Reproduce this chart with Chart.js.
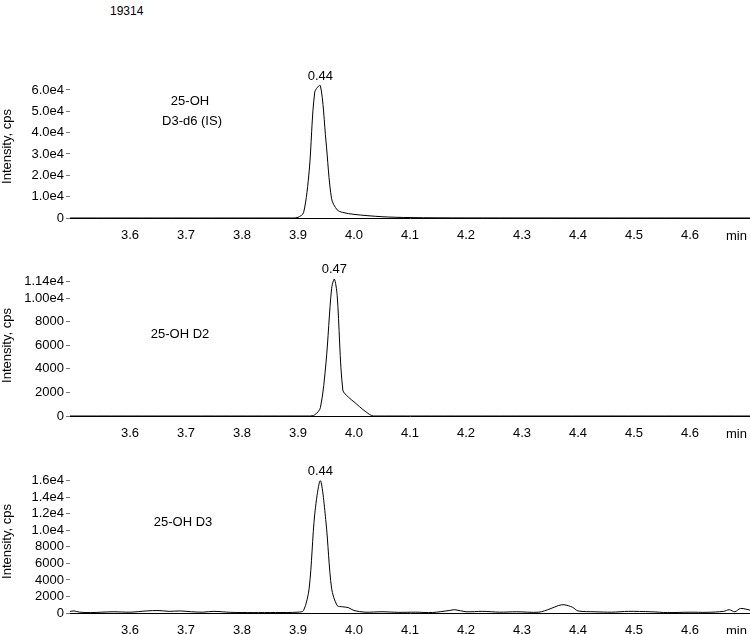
<!DOCTYPE html>
<html><head><meta charset="utf-8">
<script src="https://cdn.jsdelivr.net/npm/chart.js@4"></script>
<style>
body{margin:0;background:#fff;width:750px;height:634px;position:relative;overflow:hidden;font-family:"Liberation Sans",Arial,sans-serif}
canvas{position:absolute;left:0}
#top{position:absolute;left:110px;top:4px;font-size:12px}
</style></head><body>
<div id="top">19314</div>
<canvas id="c1" style="top:55px"></canvas>
<canvas id="c2" style="top:255px"></canvas>
<canvas id="c3" style="top:450px"></canvas>
<script>
// x tick labels shared by all panels
const xTicks = [3.6, 3.7, 3.8, 3.9, 4.0, 4.1, 4.2, 4.3, 4.4, 4.5, 4.6]

// panel 1: 25-OH D3-d6 (IS)
const t1 = [3.49, 3.70, 3.89, 3.90, 3.91, 3.92, 3.93, 3.94, 3.95, 3.96, 3.97, 3.98, 4.00, 4.05, 4.10, 4.20, 4.71]
const y1 = [0, 0, 0, 300, 2500, 22000, 59000, 62000, 36000, 9000, 3800, 2600, 1700, 600, 200, 50, 0]
// panel 2: 25-OH D2
const t2 = [3.49, 3.70, 3.92, 3.93, 3.94, 3.95, 3.96, 3.965, 3.97, 3.98, 3.99, 4.00, 4.02, 4.035, 4.20, 4.71]
const y2 = [0, 0, 0, 100, 700, 4500, 10800, 11600, 10200, 2200, 1600, 1200, 400, 0, 0, 0]
// panel 3: 25-OH D3
const t3 = [3.49, 3.50, 3.51, 3.53, 3.57, 3.60, 3.63, 3.65, 3.67, 3.69, 3.71, 3.73, 3.75, 3.78, 3.82, 3.86, 3.90, 3.91, 3.92, 3.93, 3.94, 3.95, 3.96, 3.97, 3.98, 3.99, 4.00, 4.02, 4.05, 4.08, 4.11, 4.14, 4.17, 4.18, 4.20, 4.23, 4.26, 4.29, 4.33, 4.35, 4.365, 4.375, 4.39, 4.40, 4.43, 4.46, 4.49, 4.53, 4.56, 4.60, 4.63, 4.66, 4.67, 4.68, 4.69, 4.71]
const y3 = [150, 250, 100, 50, 150, 100, 250, 300, 200, 250, 150, 100, 200, 80, 50, 60, 100, 300, 3000, 12000, 16000, 11000, 3000, 900, 750, 650, 300, 100, 150, 80, 100, 60, 300, 400, 150, 200, 100, 150, 100, 500, 900, 1000, 700, 250, 150, 100, 200, 150, 50, 100, 80, 200, 400, 150, 550, 300]
const y2Ticks = [0, 2000, 4000, 6000, 8000, 10000, 11400]

function fmtY(v) {
  if (v === 0) return "0"
  if (v === 11400) return "1.14e4"
  if (v === 10000 && this.chart.canvas.id === "c2") return "1.00e4"
  if (v >= 10000) return (v / 10000).toFixed(1) + "e4"
  return String(v)
}

function makeChart(id, h, t, y, yMax, yTicks, names, peakLabel, peakX, peakY) {
  const cv = document.getElementById(id)
  cv.style.width = "750px"; cv.style.height = h + "px"
  new Chart(cv, {
    type: "line",
    data: { datasets: [{ data: t.map((v, i) => ({ x: v, y: y[i] })), borderColor: "#000", borderWidth: 1, pointRadius: 0, tension: 0.3 }] },
    options: {
      responsive: false, animation: false, devicePixelRatio: 1,
      layout: { padding: { top: 20, right: 0 } },
      plugins: { legend: { display: false }, tooltip: { enabled: false } },
      scales: {
        x: {
          type: "linear", min: 3.493, max: 4.707,
          afterBuildTicks: s => { s.ticks = xTicks.map(v => ({ value: v })) },
          afterFit: s => { s.height = 32 },
          grid: { drawOnChartArea: false, drawTicks: false, color: "#000" },
          border: { color: "#000" },
          ticks: { autoSkip: false, callback: v => v.toFixed(1), color: "#000", padding: 10, maxRotation: 0, font: { family: "Liberation Sans", size: 13 } }
        },
        y: {
          min: 0, max: yMax,
          afterBuildTicks: s => { s.ticks = yTicks.map(v => ({ value: v })) },
          afterFit: s => { s.width = 70 },
          grid: { drawOnChartArea: false, tickLength: 4, color: "#777" },
          border: { display: false },
          title: { display: true, text: "Intensity, cps", color: "#000", padding: 0, font: { family: "Liberation Sans", size: 13 } },
          ticks: { autoSkip: false, callback: fmtY, color: "#000", padding: 2, font: { family: "Liberation Sans", size: 13 } }
        }
      }
    },
    plugins: [{
      afterDraw(c) {
        const ctx = c.ctx, xs = c.scales.x, ys = c.scales.y
        ctx.save()
        ctx.fillStyle = "#000"
        ctx.font = "13px 'Liberation Sans'"
        ctx.textAlign = "center"
        ctx.fillText(peakLabel, xs.getPixelForValue(peakX), ys.getPixelForValue(peakY) - 6)
        names.forEach((n, i) => ctx.fillText(n[0], n[1], n[2]))
        ctx.textAlign = "left"
        ctx.fillText("min", 726, c.chartArea.bottom + 22)
        ctx.restore()
      }
    }]
  })
}

makeChart("c1", 195, t1, y1, 67000, [0, 10000, 20000, 30000, 40000, 50000, 60000],
  [["25-OH", 190, 50], ["D3-d6 (IS)", 192, 70]], "0.44", 3.94, 62000)
makeChart("c2", 193, t2, y2, 11950, y2Ticks,
  [["25-OH D2", 180, 83]], "0.47", 3.965, 11600)
makeChart("c3", 195, t3, y3, 17300, [0, 2000, 4000, 6000, 8000, 10000, 12000, 14000, 16000],
  [["25-OH D3", 183, 76]], "0.44", 3.94, 16000)
</script>
</body></html>
